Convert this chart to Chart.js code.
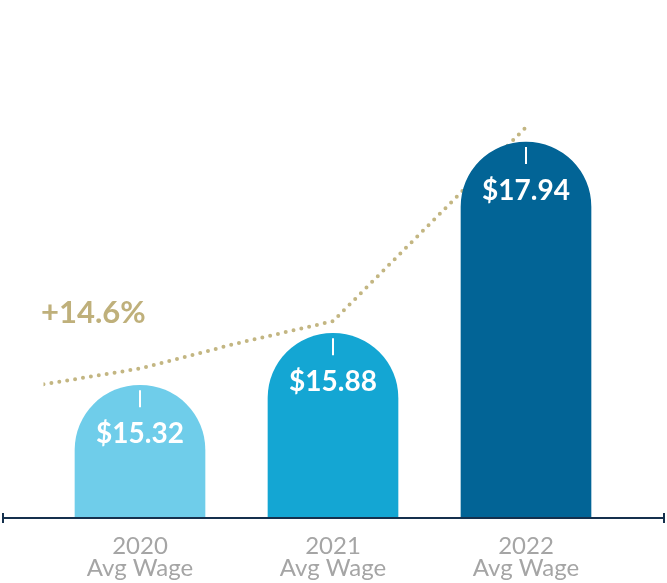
<!DOCTYPE html>
<html>
<head>
<meta charset="utf-8">
<script src="https://cdn.jsdelivr.net/npm/chart.js@4"></script>
<style>
  html, body { margin: 0; padding: 0; background: #fff; }
  #wrap { width: 667px; height: 583px; position: relative; }
</style>
</head>
<body>
<div id="wrap"><canvas id="myChart"></canvas></div>
<script>
const years = ['2020', '2021', '2022'];
const wages = [15.32, 15.88, 17.94];
const barColors = ['#6fcdea', '#14a6d3', '#026496'];

// dotted trend line, x in category units (-0.5 = left edge of first slot)
const trendX = [-0.5, 0, 0.5, 1, 2];
const trendY = [15.33, 15.50, 15.77, 16.01, 18.10];
const growthLabel = '+14.6%';

const ctx = document.getElementById('myChart');

const barLabels = {
  id: 'barLabels',
  afterDatasetsDraw(chart) {
    const c = chart.ctx;
    const meta = chart.getDatasetMeta(0);
    c.save();
    meta.data.forEach((bar, i) => {
      c.strokeStyle = '#ffffff';
      c.lineWidth = 2;
      c.beginPath();
      c.moveTo(bar.x, bar.y + 5);
      c.lineTo(bar.x, bar.y + 22);
      c.stroke();
      c.fillStyle = '#ffffff';
      c.font = 'bold 28px Lato';
      c.textAlign = 'center';
      c.textBaseline = 'middle';
      c.fillText('$' + wages[i].toFixed(2), bar.x, bar.y + 49);
    });
    c.fillStyle = '#bfb07b';
    c.font = 'bold 31px Lato';
    c.textAlign = 'left';
    c.textBaseline = 'middle';
    c.fillText(growthLabel, 41, 313);
    c.restore();
  }
};

const axisLine = {
  id: 'axisLine',
  afterDraw(chart) {
    const c = chart.ctx;
    const y = chart.chartArea.bottom;
    c.save();
    c.strokeStyle = '#15304d';
    c.lineWidth = 2;
    c.beginPath();
    c.moveTo(3, y);
    c.lineTo(chart.width - 3, y);
    c.moveTo(3, y - 5);
    c.lineTo(3, y + 5);
    c.moveTo(chart.width - 3, y - 5);
    c.lineTo(chart.width - 3, y + 5);
    c.stroke();
    c.restore();
  }
};

let graphdata = {
  type: 'bar',
  data: {
    labels: years.map(y => [y, 'Avg Wage']),
    datasets: [{
      type: 'bar',
      data: wages,
      backgroundColor: barColors,
      barThickness: 130,
      grouped: false,
      borderRadius: { topLeft: 65, topRight: 65, bottomLeft: 0, bottomRight: 0 },
      borderSkipped: 'bottom',
      order: 0
    }, {
      type: 'line',
      xAxisID: 'x2',
      data: trendX.map((x, i) => ({ x: x, y: trendY[i] })),
      borderColor: '#c3b682',
      borderWidth: 4,
      borderDash: [0, 8],
      borderCapStyle: 'round',
      pointRadius: 0,
      tension: 0,
      fill: false,
      order: 1
    }]
  },
  options: {
    responsive: true,
    maintainAspectRatio: false,
    animation: false,
    layout: { padding: { left: 43.5, right: 44.5, top: 0, bottom: 0 } },
    plugins: { legend: { display: false }, tooltip: { enabled: false } },
    scales: {
      x: {
        grid: { display: false },
        border: { display: false },
        afterFit(scale) { scale.height = 65; },
        ticks: {
          color: '#a5a5a5',
          padding: 9,
          font: { family: 'Lato', size: 24, lineHeight: 0.92 }
        }
      },
      x2: { type: 'linear', display: false, offset: false, min: -0.5, max: 2.5 },
      y: { display: false, min: 13.89, max: 19.47 }
    }
  },
  plugins: [barLabels, axisLine]
};

let mychart = new Chart(ctx, graphdata);
</script>
</body>
</html>
